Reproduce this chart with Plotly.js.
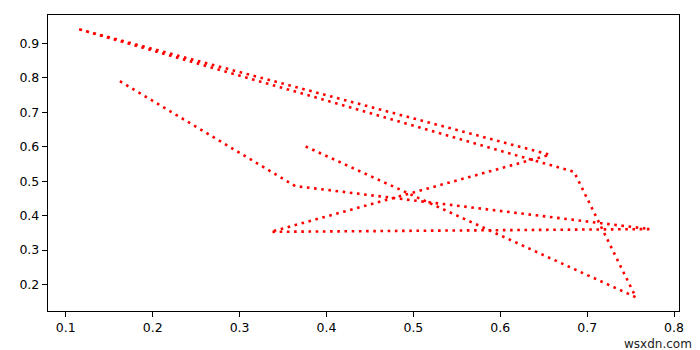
<!DOCTYPE html>
<html>
<head>
<meta charset="utf-8">
<script src="https://cdn.plot.ly/plotly-3.0.1.min.js"></script>
<style>html,body{margin:0;padding:0;background:#fff;}#chart{width:700px;height:350px;}</style>
</head>
<body>
<div id="chart"></div>
<script>
const xValues = [0.376, 0.756, 0.685, 0.113, 0.657, 0.336, 0.772, 0.364, 0.162];
const yValues = [0.601, 0.163, 0.527, 0.943, 0.577, 0.353, 0.361, 0.486, 0.791];
const xTicks = [0.1, 0.2, 0.3, 0.4, 0.5, 0.6, 0.7, 0.8];
const yTicks = [0.2, 0.3, 0.4, 0.5, 0.6, 0.7, 0.8, 0.9];

const trace = {
  x: xValues, y: yValues, type: 'scatter', mode: 'lines',
  line: {color: '#ff0000', width: 2.6, dash: '2.6px,4.6px'},
  hoverinfo: 'skip'
};
const axisCommon = {
  showgrid: false, zeroline: false, showline: true, mirror: true,
  linecolor: '#000', linewidth: 1.2, ticks: 'outside', ticklen: 5, tickwidth: 1, tickcolor: '#000',
  tickfont: {family: 'DejaVu Sans', size: 12.5, color: '#000'}
};
const layout = {
  width: 700, height: 350,
  margin: {l: 47.5, r: 20.7, t: 15, b: 38.5},
  paper_bgcolor: '#fff', plot_bgcolor: '#fff',
  showlegend: false,
  xaxis: Object.assign({}, axisCommon, {range: [0.0795, 0.8057], tickvals: xTicks, ticktext: xTicks.map(v => v.toFixed(1))}),
  yaxis: Object.assign({}, axisCommon, {range: [0.123, 0.983], tickvals: yTicks, ticktext: yTicks.map(v => v.toFixed(1))}),
  annotations: [{
    text: 'wsxdn.com', xref: 'paper', yref: 'paper', x: 1.022, y: -0.085,
    xanchor: 'right', yanchor: 'top', showarrow: false, borderpad: 0,
    font: {family: 'DejaVu Sans', size: 12, color: '#222'}
  }]
};
Plotly.newPlot('chart', [trace], layout, {staticPlot: true, displayModeBar: false});
</script>
</body>
</html>
